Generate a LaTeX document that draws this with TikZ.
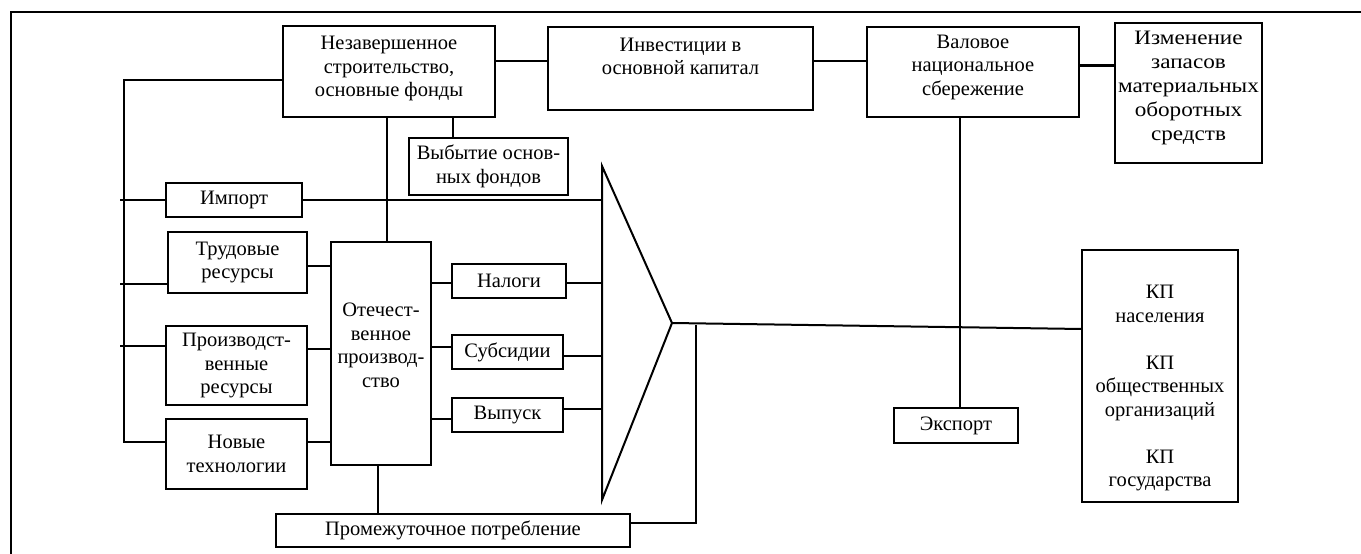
\documentclass[tikz,border=0pt]{standalone}
\usepackage{fontspec}
\setmainfont{Liberation Serif}
\newfontfamily\widefont[FakeStretch=1.13]{Liberation Serif}
\newcommand\fs{\fontsize{20.5}{23.5}\selectfont}
\begin{document}
\begin{tikzpicture}[x=1pt,y=-1pt,
  box/.style={draw, line width=2pt, inner sep=0pt, align=center, font=\fs},
  txt/.style={inner sep=0pt, align=center, font=\fs},
  wire/.style={line width=2pt},
  frame/.style={line width=2.6pt}]
\useasboundingbox (0,0) rectangle (1361,554);
% frame
\coordinate (fbl) at (11,554);
\coordinate (ftl) at (11,12);
\coordinate (ftr) at (1361,12);
\draw[frame] (fbl) -- (ftl) -- (ftr);
% boxes
\node[box, minimum width=212, minimum height=91, label={[txt,yshift=3pt]center:Незавершенное\\строительство,\\основные фонды}] (nez) at (389,71.5) {};
\node[box, minimum width=265, minimum height=83, label={[txt,yshift=12pt]center:Инвестиции в\\основной капитал}] (inv) at (680.5,68.5) {};
\node[box, minimum width=212, minimum height=90, label={[txt,yshift=5pt]center:Валовое\\национальное\\сбережение}] (val) at (973,72) {};
\node[box, minimum width=147, minimum height=140, label={[txt,yshift=5pt,font=\widefont\fontsize{20.5}{23.8}\selectfont]center:Изменение\\запасов\\материальных\\оборотных\\средств}] (izm) at (1188.5,93) {};
\node[box, minimum width=159, minimum height=57] (vyb) at (488.5,166.5) {Выбытие основ-\\ных фондов};
\node[box, minimum width=136, minimum height=34] (imp) at (234,200) {Импорт};
\node[box, minimum width=139, minimum height=61] (trud) at (237.5,262.5) {Трудовые\\ресурсы};
\node[box, minimum width=100, minimum height=223, label={[txt,yshift=8pt]center:Отечест-\\венное\\производ-\\ство}] (otech) at (381,353.5) {};
\node[box, minimum width=141, minimum height=79] (proiz) at (236.5,365.5) {Производст-\\венные\\ресурсы};
\node[box, minimum width=141, minimum height=70] (novye) at (236.5,454) {Новые\\технологии};
\node[box, minimum width=354, minimum height=33] (prom) at (453,530.5) {Промежуточное потребление};
\node[box, minimum width=114, minimum height=34] (nalogi) at (509,281) {Налоги};
\node[box, minimum width=111, minimum height=34] (subs) at (507.5,352) {Субсидии};
\node[box, minimum width=111, minimum height=34] (vyp) at (507.5,415) {Выпуск};
\node[box, minimum width=124, minimum height=35] (eksp) at (956,425.5) {Экспорт};
\node[box, minimum width=156, minimum height=252, label={[txt,yshift=-12pt]center:КП\\населения\\[23.5pt]КП\\общественных\\организаций\\[23.5pt]КП\\государства}] (kp) at (1160,376) {};
% helper coordinates
\coordinate (y61) at (0,61);
\coordinate (y65) at (0,65);
\coordinate (busT) at (124,80);
\coordinate (busB) at (124,442);
\coordinate (impL) at (120,200);
\coordinate (trudL) at (120,284);
\coordinate (proizL) at (120,346);
\coordinate (trapT) at (602,166);
\coordinate (apex) at (672,323);
\coordinate (trapB) at (602,500);
\coordinate (x387) at (387,0);
\coordinate (x453) at (453,0);
\coordinate (x378) at (378,0);
\coordinate (x960) at (960,0);
\coordinate (promR) at (696,523);
\coordinate (promT) at (696,324.5);
\coordinate (kpIn) at (1082,329);
% trapezoid (adder)
\draw[wire, line join=miter] (trapT) -- (apex) -- (trapB) -- cycle;
% top chain
\draw[wire] (nez.east |- y61) -- (inv.west |- y61);
\draw[wire] (inv.east |- y61) -- (val.west |- y61);
\draw[line width=3pt] (val.east |- y65) -- (izm.west |- y65);
% left bus
\draw[wire] (nez.west |- busT) -- (busT) -- (busB) -- (novye.west |- busB);
\draw[wire] (impL) -- (imp.west);
\draw[wire] (imp.east) -- (trapT |- imp.east);
\draw[wire] (trudL) -- (trud.west |- trudL);
\draw[wire] (proizL) -- (proiz.west |- proizL);
% verticals from nez
\draw[wire] (nez.south -| x387) -- (otech.north -| x387);
\draw[wire] (nez.south -| x453) -- (vyb.north -| x453);
% resources to production
\coordinate (y266) at (0,266);
\coordinate (y349) at (0,349);
\coordinate (y442) at (0,442);
\draw[wire] (trud.east |- y266) -- (otech.west |- y266);
\draw[wire] (proiz.east |- y349) -- (otech.west |- y349);
\draw[wire] (novye.east |- y442) -- (otech.west |- y442);
% production to taxes etc.
\coordinate (y283) at (0,283);
\coordinate (y347) at (0,347);
\coordinate (y419) at (0,419);
\coordinate (y356) at (0,356);
\coordinate (y409) at (0,409);
\draw[wire] (otech.east |- y283) -- (nalogi.west |- y283);
\draw[wire] (otech.east |- y347) -- (subs.west |- y347);
\draw[wire] (otech.east |- y419) -- (vyp.west |- y419);
\draw[wire] (nalogi.east |- y283) -- (trapT |- y283);
\draw[wire] (subs.east |- y356) -- (trapT |- y356);
\draw[wire] (vyp.east |- y409) -- (trapT |- y409);
% intermediate consumption
\draw[wire] (otech.south -| x378) -- (prom.north -| x378);
\draw[wire] (prom.east |- promR) -- (promR) -- (promT);
% main output
\draw[wire] (apex) -- (kpIn);
% savings to export
\draw[wire] (val.south -| x960) -- (eksp.north -| x960);
\end{tikzpicture}
\end{document}
